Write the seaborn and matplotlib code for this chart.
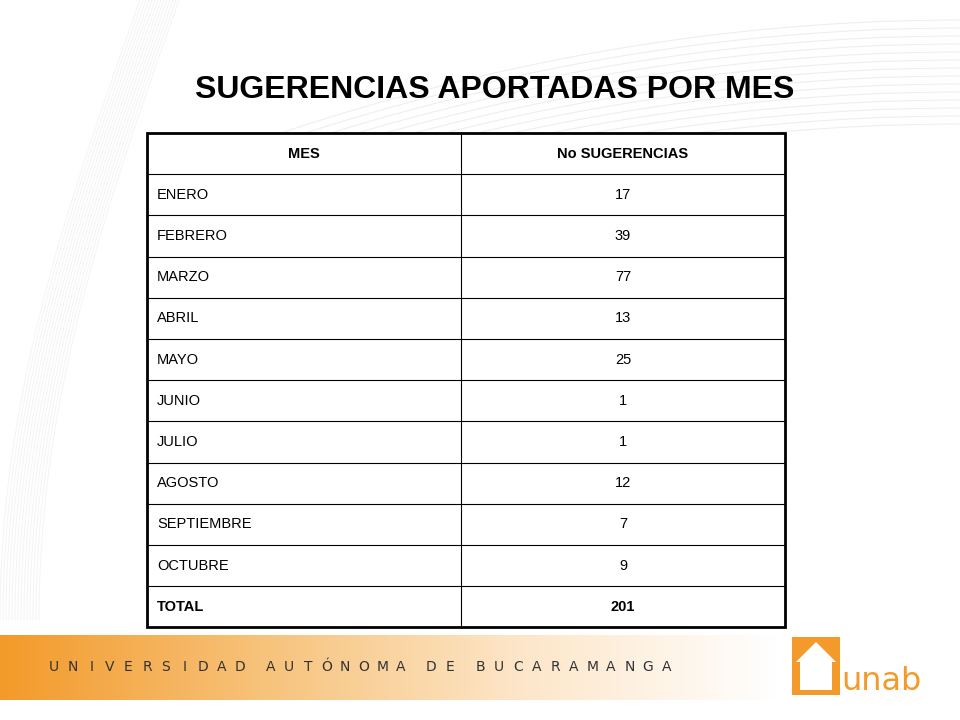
import matplotlib
matplotlib.use("Agg")
import matplotlib.pyplot as plt
import numpy as np
import seaborn as sns
from matplotlib.colors import LinearSegmentedColormap

title = "SUGERENCIAS APORTADAS POR MES"
headers = ["MES", "No SUGERENCIAS"]
months = ["ENERO", "FEBRERO", "MARZO", "ABRIL", "MAYO", "JUNIO", "JULIO",
          "AGOSTO", "SEPTIEMBRE", "OCTUBRE"]
counts = [17, 39, 77, 13, 25, 1, 1, 12, 7, 9]
total_label = "TOTAL"
total_value = 201
footer = "UNIVERSIDAD AUTÓNOMA DE BUCARAMANGA"

sns.set_theme(style="white")
fig = plt.figure(figsize=(9.6, 7.2), dpi=100)
ax = fig.add_axes([0, 0, 1, 1])
ax.set_xlim(0, 960); ax.set_ylim(720, 0); ax.axis("off")

# faint background swirl lines
t = np.linspace(0, 1, 200)
for k in range(14):
    ax.plot(960 - 700 * t, 20 + k * 8 + 120 * t**2, color="#eeeeee", lw=0.8, zorder=0)
    ax.plot(140 - 140 * np.sin(t * np.pi / 2) + k * 3, 620 * t, color="#f4f4f4", lw=0.7, zorder=0)

ax.text(495, 90, title, ha="center", va="center", fontsize=23, fontweight="bold",
        family="Liberation Sans", color="black")

x0, xm, x1 = 147, 461, 785
y0, rh = 133, 41.2
rows = [headers] + [[m, str(c)] for m, c in zip(months, counts)] + [[total_label, str(total_value)]]
n = len(rows)
ax.add_patch(plt.Rectangle((x0, y0), x1 - x0, rh * n, fill=True, fc="white", ec="black", lw=2, zorder=2))
for i in range(1, n):
    ax.plot([x0, x1], [y0 + i * rh] * 2, color="black", lw=0.8, zorder=3)
ax.plot([xm, xm], [y0, y0 + rh * n], color="black", lw=0.8, zorder=3)
for i, (a, b) in enumerate(rows):
    yc = y0 + (i + 0.5) * rh
    bold = "bold" if i in (0, n - 1) else "normal"
    if i == 0:
        ax.text((x0 + xm) / 2, yc, a, ha="center", va="center", fontsize=10.5, fontweight=bold, family="Liberation Sans", color="black", zorder=4)
    else:
        ax.text(x0 + 10, yc, a, ha="left", va="center", fontsize=10.5, fontweight=bold, family="Liberation Sans", color="black", zorder=4)
    ax.text((xm + x1) / 2, yc, b, ha="center", va="center", fontsize=10.5, fontweight=bold, family="Liberation Sans", color="black", zorder=4)

# footer band gradient
grad = np.linspace(0, 1, 256)[None, :]
cmap = LinearSegmentedColormap.from_list("o", ["#f39a2a", "#f7c27a", "#fde6c8", "#ffffff"])
ax.imshow(grad, extent=(0, 780, 700, 635), cmap=cmap, aspect="auto", zorder=1)
x = 54
for ch in footer:
    if ch == " ":
        x += 12
        continue
    ax.text(x, 667, ch, ha="center", va="center", fontsize=10, color="#333333", family="DejaVu Sans", zorder=3)
    x += 18.6

# logo
ax.add_patch(plt.Rectangle((792, 637), 48, 58, fc="#f39a2a", ec="none", zorder=2))
ax.add_patch(plt.Rectangle((800, 660), 32, 30, fc="white", ec="none", zorder=3))
ax.add_patch(plt.Polygon([[796, 662], [816, 642], [836, 662]], fc="white", ec="none", zorder=3))
ax.text(881, 682, "unab", ha="center", va="center", fontsize=23, color="#f39a2a",
        family="DejaVu Sans", zorder=3)
fig.savefig("out.png", dpi=100)
